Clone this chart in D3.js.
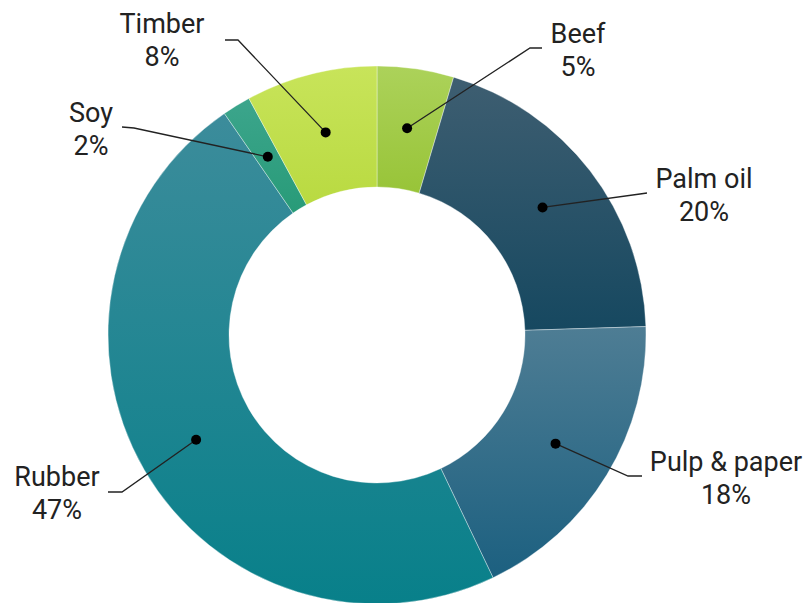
<!DOCTYPE html>
<html><head><meta charset="utf-8">
<script src="https://cdn.jsdelivr.net/npm/d3@7"></script>
<style>html,body{margin:0;padding:0;background:#fff;}svg{display:block;}</style>
</head><body>
<svg id="chart" width="807" height="603"></svg>
<script>
const categories = ["Beef", "Palm oil", "Pulp & paper", "Rubber", "Soy", "Timber"];
const values = [4.6, 19.9, 18.4, 47.5, 1.7, 7.9];
const percentLabels = ["5%", "20%", "18%", "47%", "2%", "8%"];
const colorsTop = ["#acd25a", "#3e5e71", "#4e7d94", "#3c8c9b", "#3ca58c", "#c8e45a"];
const colorsBottom = ["#98c438", "#164860", "#1c6080", "#08808a", "#289b78", "#b9da41"];
// label layout: elbow point, line end, text anchor position (layout only)
const labelLayout = [
  {elbow:[530,48], end:[542,48], text:[578,43]},
  {elbow:[640,194], end:[647,193], text:[704,188]},
  {elbow:[628,476], end:[642,476], text:[726,471]},
  {elbow:[122,492], end:[108,492], text:[57,486]},
  {elbow:[134,128], end:[122,127], text:[91,122]},
  {elbow:[238,40], end:[225,40], text:[162,33]}
];

const svg = d3.select("#chart");
const cx = 377, cy = 335, R = 269, r = 148, rDot = 209;
const g = svg.append("g").attr("transform", `translate(${cx},${cy})`);
const defs = svg.append("defs");
categories.forEach((c, i) => {
  const lg = defs.append("linearGradient").attr("id", "grad" + i)
    .attr("x1", 0).attr("y1", 0).attr("x2", 0).attr("y2", 1);
  lg.append("stop").attr("offset", "0%").attr("stop-color", colorsTop[i]);
  lg.append("stop").attr("offset", "100%").attr("stop-color", colorsBottom[i]);
});

const pie = d3.pie().sort(null).value(d => d.v);
const data = categories.map((c, i) => ({c, v: values[i], i}));
const arcs = pie(data);
const arc = d3.arc().innerRadius(r).outerRadius(R);
const dotArc = d3.arc().innerRadius(rDot).outerRadius(rDot);

g.selectAll("path.slice").data(arcs).enter().append("path")
  .attr("class", "slice")
  .attr("d", arc)
  .attr("fill", d => `url(#grad${d.data.i})`)
  .attr("stroke", "rgba(255,255,255,0.6)")
  .attr("stroke-width", 0.6);

// leader lines
arcs.forEach((d, i) => {
  const [dx, dy] = dotArc.centroid(d);
  const L = labelLayout[i];
  svg.append("polyline")
    .attr("points", [[cx + dx, cy + dy], L.elbow, L.end].map(p => p.join(",")).join(" "))
    .attr("fill", "none").attr("stroke", "#222").attr("stroke-width", 1.3);
  svg.append("circle").attr("cx", cx + dx).attr("cy", cy + dy).attr("r", 5).attr("fill", "#000");
  const t = svg.append("text").attr("x", L.text[0]).attr("y", L.text[1])
    .attr("text-anchor", "middle")
    .attr("font-family", "Roboto, sans-serif").attr("font-size", 27)
    .attr("fill", "#222");
  t.append("tspan").attr("x", L.text[0]).text(d.data.c);
  t.append("tspan").attr("x", L.text[0]).attr("dy", 33).text(percentLabels[i]);
});
</script>
</body></html>
